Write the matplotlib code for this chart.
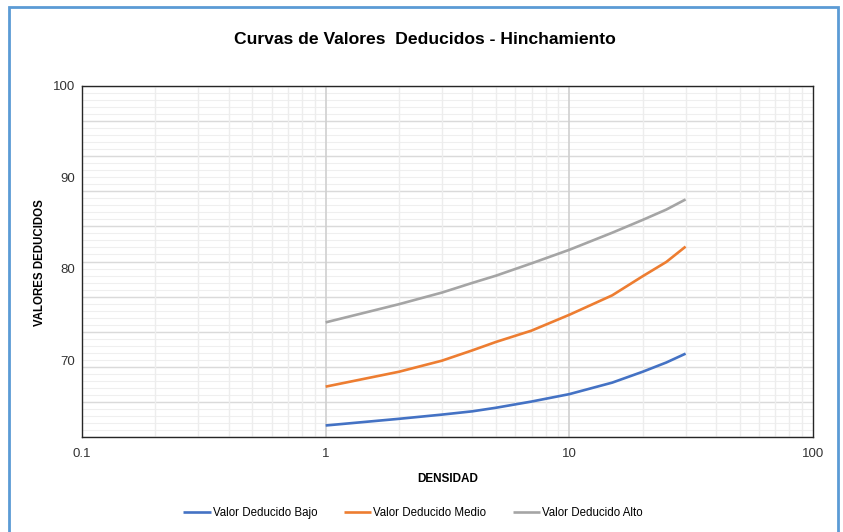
import numpy as np
import matplotlib.pyplot as plt
from matplotlib.patches import Rectangle

plt.rcParams['font.family'] = ['Liberation Sans', 'DejaVu Sans']

# data
densidad = [1, 2, 3, 4, 5, 7, 10, 15, 20, 25, 30]
vd_bajo = [62.86, 63.59, 64.05, 64.41, 64.8, 65.48, 66.29, 67.55, 68.74, 69.75, 70.72]
vd_medio = [67.11, 68.74, 69.95, 71.08, 72.0, 73.24, 74.97, 77.1, 79.19, 80.75, 82.43]
vd_alto = [74.14, 76.13, 77.4, 78.46, 79.25, 80.6, 82.08, 83.95, 85.35, 86.48, 87.59]

series_names = ["Valor Deducido Bajo", "Valor Deducido Medio", "Valor Deducido Alto"]
series_colors = ["#4472c4", "#ed7d31", "#a5a5a5"]
y_ticks = [70, 80, 90, 100]
x_ticks = [0.1, 1, 10, 100]
x_ticklabels = ["0.1", "1", "10", "100"]

y_min, y_max = 61.6, 100

fig = plt.figure(figsize=(8.43, 5.32), dpi=100)
ax = fig.add_axes([82 / 843, 1 - 437 / 532, (813 - 82) / 843, (437 - 86) / 532])

# gridlines, drawn first
minor_y = np.linspace(y_min, y_max, 51)
major_y = np.linspace(y_min, y_max, 11)
for yv in minor_y:
    ax.axhline(yv, color="#efefef", lw=0.8, zorder=0)
for yv in major_y:
    ax.axhline(yv, color="#dadada", lw=1.0, zorder=0)
for dec in [0.1, 1, 10]:
    for m in range(2, 10):
        ax.axvline(dec * m, color="#ededed", lw=1.0, zorder=0)
for xv in [1, 10]:
    ax.axvline(xv, color="#d0d0d0", lw=1.2, zorder=0)

for vals, name, col in zip([vd_bajo, vd_medio, vd_alto], series_names, series_colors):
    ax.plot(densidad, vals, color=col, lw=1.9, label=name, solid_capstyle="butt", zorder=3)

ax.set_xscale("log")
ax.set_xlim(0.1, 100)
ax.set_ylim(y_min, y_max)
ax.set_xticks(x_ticks)
ax.set_xticklabels(x_ticklabels)
ax.xaxis.set_minor_locator(plt.NullLocator())
ax.set_yticks(y_ticks)
ax.tick_params(axis="both", length=0, labelsize=9.5, colors="#333333")
ax.tick_params(axis="x", pad=8)
ax.tick_params(axis="y", pad=5)
for sp in ax.spines.values():
    sp.set_color("#262626")
    sp.set_linewidth(1.0)

ax.set_xlabel("DENSIDAD", fontsize=8.5, fontweight="bold", labelpad=9)
ax.set_ylabel("VALORES DEDUCIDOS", fontsize=8.3, fontweight="bold")
ax.yaxis.set_label_coords(-(82 - 46) / 731, (437 - 263) / 351)

fig.text(0.504, 1 - 39 / 532, "Curvas de Valores  Deducidos - Hinchamiento",
         ha="center", va="center", fontsize=12.6, fontweight="bold")

fig.legend(loc="center", bbox_to_anchor=(0.49, 1 - 513 / 532), ncol=3, frameon=False,
           fontsize=8.3, handlelength=2.4, handletextpad=0.15, columnspacing=2.3)

# outer chart border
fig.patches.append(Rectangle((9 / 843, -0.02), (838 - 9) / 843, 1 - 7 / 532 + 0.02,
                             transform=fig.transFigure, fill=False,
                             edgecolor="#5b9bd5", lw=2))

fig.savefig("out.png", dpi=100)
